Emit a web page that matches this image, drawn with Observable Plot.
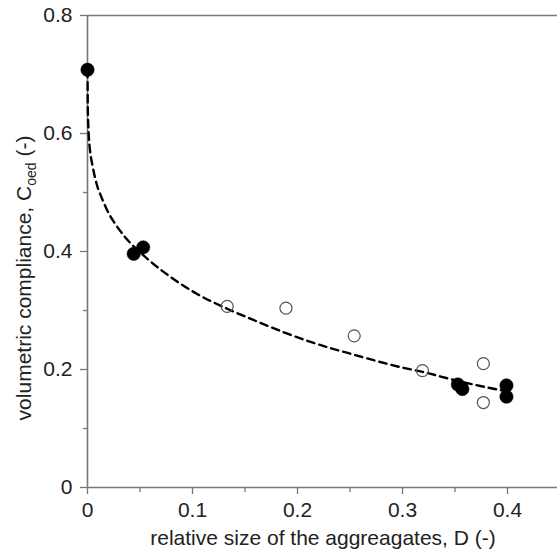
<!DOCTYPE html>
<html>
<head>
<meta charset="utf-8">
<script src="https://cdn.jsdelivr.net/npm/d3@7"></script>
<script src="https://cdn.jsdelivr.net/npm/@observablehq/plot@0.6"></script>
<style>
  html, body { margin: 0; padding: 0; background: #ffffff; }
  #chart { width: 557px; height: 553px; overflow: hidden; }
</style>
</head>
<body>
<div id="chart"></div>
<script>
// Filled circles (measured)
const filledD = [0.000, 0.044, 0.053, 0.3527, 0.357, 0.399, 0.399];
const filledC = [0.708, 0.396, 0.407, 0.1746, 0.167, 0.173, 0.154];

// Open circles
const openD = [0.133, 0.189, 0.254, 0.319, 0.377, 0.377];
const openC = [0.307, 0.304, 0.257, 0.198, 0.210, 0.144];

// Dashed fitted curve
const curveD = [0, 0.0003, 0.0008, 0.0013, 0.0025, 0.0045, 0.0076, 0.0098, 0.0124, 0.0187, 0.0267, 0.0346, 0.0568, 0.079, 0.1044, 0.133, 0.158, 0.187, 0.2155, 0.26, 0.298, 0.319, 0.354, 0.399];
const curveC = [0.708, 0.640, 0.612, 0.594, 0.570, 0.548, 0.522, 0.508, 0.496, 0.470, 0.446, 0.427, 0.388, 0.357, 0.328, 0.303, 0.284, 0.263, 0.245, 0.222, 0.204, 0.196, 0.180, 0.163];

// Ticks
const xMajor = [0, 0.1, 0.2, 0.3, 0.4];
const xMinor = [0.05, 0.15, 0.25, 0.35];
const xTickLabels = ["0", "0.1", "0.2", "0.3", "0.4"];
const yMajor = [0, 0.2, 0.4, 0.6, 0.8];
const yMinor = [0.1, 0.3, 0.5, 0.7];
const yTickLabels = ["0", "0.2", "0.4", "0.6", "0.8"];

const filled = filledD.map((d, i) => ({D: d, C: filledC[i]}));
const open = openD.map((d, i) => ({D: d, C: openC[i]}));
const curve = curveD.map((d, i) => ({D: d, C: curveC[i]}));

const axisColor = "#777";
const font = "'Liberation Sans', Arial, sans-serif";

const plot = Plot.plot({
  width: 557,
  height: 553,
  marginTop: 15,
  marginLeft: 87,
  marginRight: 0,
  marginBottom: 66,
  x: {domain: [0, 0.4476]},
  y: {domain: [0, 0.8]},
  style: {fontFamily: font, fontSize: "21px", color: "#222", background: "#ffffff"},
  marks: [
    Plot.ruleY([0.8], {stroke: axisColor, strokeWidth: 1.6}),
    Plot.ruleY([0], {stroke: axisColor, strokeWidth: 1.6}),
    Plot.ruleX([0], {stroke: axisColor, strokeWidth: 1.6}),
    Plot.axisX(xMajor, {tickSize: 7, tickPadding: 8, stroke: axisColor, strokeWidth: 1.3, fill: "#222", fontSize: 21, label: null,
      tickFormat: (d) => xTickLabels[xMajor.indexOf(d)]}),
    Plot.axisX(xMinor, {tickSize: 5, stroke: axisColor, strokeWidth: 1.3, fill: "none", label: null}),
    Plot.axisY(yMajor, {tickSize: 7, tickPadding: 8, stroke: axisColor, strokeWidth: 1.3, fill: "#222", fontSize: 21, label: null,
      tickFormat: (d) => yTickLabels[yMajor.indexOf(d)]}),
    Plot.axisY(yMinor, {tickSize: 4, stroke: axisColor, strokeWidth: 1.3, fill: "none", label: null}),
    Plot.line(curve, {x: "D", y: "C", stroke: "#000", strokeWidth: 2.4, strokeDasharray: "7.5,5", curve: "monotone-x"}),
    Plot.dot(open, {x: "D", y: "C", r: 6, stroke: "#555", strokeWidth: 1.2, fill: "none"}),
    Plot.dot(filled, {x: "D", y: "C", r: 6.7, fill: "#000", stroke: "#000", strokeWidth: 0.5})
  ]
});

document.getElementById("chart").appendChild(plot);

// Axis titles (real text, with subscript)
const svg = d3.select(plot);
svg.append("text")
  .attr("x", 323).attr("y", 545)
  .attr("text-anchor", "middle")
  .attr("font-family", font).attr("font-size", 21).attr("fill", "#222")
  .text("relative size of the aggreagates, D (-)");

const yl = svg.append("text")
  .attr("transform", "translate(31,278) rotate(-90)")
  .attr("text-anchor", "middle")
  .attr("font-family", font).attr("font-size", 21).attr("fill", "#222");
yl.append("tspan").text("volumetric compliance, C");
yl.append("tspan").attr("font-size", 14).attr("dy", 5).text("oed");
yl.append("tspan").attr("dy", -5).text(" (-)");
</script>
</body>
</html>
